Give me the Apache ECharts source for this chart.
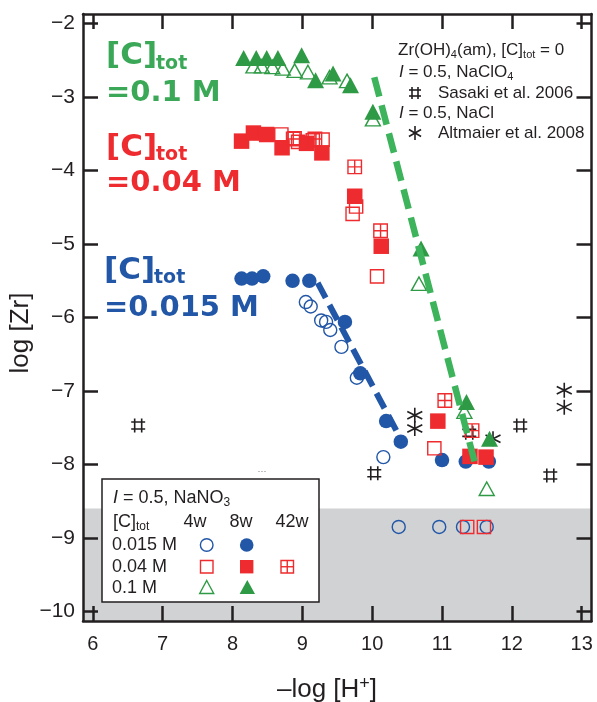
<!DOCTYPE html>
<html><head><meta charset="utf-8">
<script src="https://cdn.jsdelivr.net/npm/echarts@6/dist/echarts.min.js"></script>
<style>html,body{margin:0;padding:0;background:#fff}#c{width:597px;height:702px}</style>
</head><body><div id="c"></div>
<script>
// ---------- data ----------
const xTicks = [6, 7, 8, 9, 10, 11, 12, 13];
const yTicks = [-10, -9, -8, -7, -6, -5, -4, -3, -2];
const detectionLimit = -8.6;

const blueOpen4w = [[9.05,-5.79],[9.12,-5.85],[9.27,-6.04],[9.34,-6.06],[9.40,-6.17],[9.56,-6.40],[9.78,-6.82],[10.16,-7.90],[10.38,-8.85],[10.96,-8.85],[11.30,-8.85],[11.64,-8.85]];
const blueFilled8w = [[8.13,-5.47],[8.28,-5.47],[8.44,-5.44],[8.86,-5.50],[9.10,-5.50],[9.61,-6.06],[9.83,-6.76],[10.20,-7.41],[10.41,-7.69],[11.00,-7.94],[11.34,-7.96],[11.67,-7.96]];
const redOpen4w = [[8.70,-3.51],[8.89,-3.56],[8.94,-3.61],[9.15,-3.59],[9.29,-3.58],[9.72,-4.59],[9.77,-4.49],[10.07,-5.44],[10.89,-7.78],[11.36,-8.85],[11.60,-8.85]];
const redFilled8w = [[8.13,-3.60],[8.30,-3.49],[8.49,-3.51],[8.71,-3.69],[9.06,-3.63],[9.28,-3.76],[9.75,-4.35],[10.13,-5.03],[10.94,-7.41],[11.40,-7.89],[11.63,-7.90]];
const redCrossed42w = [[8.87,-3.57],[9.18,-3.57],[9.75,-3.95],[10.12,-4.82],[11.04,-7.13],[11.43,-7.54]];
const greenOpen4w = [[8.30,-2.58],[8.42,-2.58],[8.57,-2.59],[8.72,-2.61],[8.89,-2.64],[9.08,-2.66],[9.39,-2.73],[9.64,-2.78],[10.01,-3.30],[10.67,-5.54],[11.32,-7.28],[11.64,-8.33]];
const greenFilled8w = [[8.16,-2.47],[8.34,-2.47],[8.49,-2.47],[8.65,-2.47],[8.99,-2.43],[9.19,-2.77],[9.44,-2.68],[9.69,-2.84],[10.01,-3.20],[10.70,-5.06],[11.35,-7.15],[11.68,-7.65]];
const sasaki2006 = [[6.65,-7.47],[10.03,-8.12],[11.39,-7.57],[12.12,-7.47],[12.55,-8.15]];
const altmaier2008 = [[10.61,-7.33],[10.61,-7.51],[11.73,-7.65],[12.75,-6.99],[12.75,-7.22]];
const blueFit = [[9.22,-5.53],[10.42,-7.67]];
const greenFit = [[10.03,-2.73],[11.49,-8.05]];

// ---------- styles ----------
const BLUE = '#2257a7', RED = '#ee2b2e', GREEN = '#2f9a45', GREEN_LINE = '#3db35c', GREEN_TXT = '#3aa857', INK = '#231f20';
const HASH = 'path://M2.5,0V10M7.5,0V10M0,2.5H10M0,7.5H10';
const STAR = 'path://M5,0V10M0.7,2.5L9.3,7.5M0.7,7.5L9.3,2.5';
const CROSSSQ = 'path://M0,0H10V10H0ZM5,0V10M0,5H10';
const XMIN = 5.86, XMAX = 13.14, YMIN = -10.13, YMAX = -1.87;

function axisCommon(showLabel, pos) {
  return {
    type: 'value', position: pos, z: 10,
    axisLine: { show: true, onZero: false, lineStyle: { color: INK, width: 2.5 } },
    axisTick: { show: true, inside: true, length: 15, lineStyle: { color: INK, width: 2.5 } },
    axisLabel: { show: showLabel, color: INK, fontSize: 20, fontFamily: 'Liberation Sans' },
    splitLine: { show: false }
  };
}
const xa0 = axisCommon(true, 'bottom'); xa0.min = XMIN; xa0.max = XMAX; xa0.axisTick.customValues = xTicks; xa0.axisLabel.customValues = xTicks; xa0.axisLabel.margin = 13;
const xa1 = axisCommon(false, 'top'); xa1.min = XMIN; xa1.max = XMAX; xa1.axisTick.customValues = xTicks; xa1.axisLabel.customValues = xTicks;
const ya0 = axisCommon(true, 'left'); ya0.min = YMIN; ya0.max = YMAX; ya0.axisTick.customValues = yTicks; ya0.axisLabel.customValues = yTicks; ya0.axisLabel.margin = 8;
ya0.axisLabel.fontSize = 21;
ya0.axisLabel.formatter = (v) => (v < 0 ? '\u2212' : '') + Math.abs(v);
const ya1 = axisCommon(false, 'right'); ya1.min = YMIN; ya1.max = YMAX; ya1.axisTick.customValues = yTicks; ya1.axisLabel.customValues = yTicks;

function sc(name, data, symbol, size, fill, stroke, bw, z) {
  return { type: 'scatter', name, data, symbol, symbolSize: size, z: z || 3, silent: true,
    itemStyle: { color: fill, borderColor: stroke, borderWidth: bw, opacity: 1 } };
}

// ---------- graphics (labels / legend) ----------
const g = [];
function T(x, y, text, font, fill, align, extra) {
  const el = { type: 'text', x, y, z: 100, silent: true,
    style: Object.assign({ text, font, fill, align: align || 'left', verticalAlign: 'middle', textAlign: align || 'left', textVerticalAlign: 'middle' }, extra || {}) };
  g.push(el); return el;
}
function L(x1, y1, x2, y2, stroke, w) {
  g.push({ type: 'line', z: 100, silent: true, shape: { x1, y1, x2, y2 }, style: { stroke, lineWidth: w } });
}
function hashAt(cx, cy, s, stroke) {
  const h = s / 2, a = s * 0.25;
  L(cx - a, cy - h, cx - a, cy + h, stroke, 1.6); L(cx + a, cy - h, cx + a, cy + h, stroke, 1.6);
  L(cx - h, cy - a, cx + h, cy - a, stroke, 1.6); L(cx - h, cy + a, cx + h, cy + a, stroke, 1.6);
}
function starAt(cx, cy, s, stroke) {
  const h = s / 2, dx = h * 0.866, dy = h * 0.5;
  L(cx, cy - h, cx, cy + h, stroke, 1.6);
  L(cx - dx, cy - dy, cx + dx, cy + dy, stroke, 1.6);
  L(cx - dx, cy + dy, cx + dx, cy - dy, stroke, 1.6);
}
const BIG = 'bold 29px "DejaVu Sans"', BIGSUB = 'bold 19px "DejaVu Sans"', BIGC = 'bold 31px "DejaVu Sans"';
T(106, 56, '[C]', BIGC, GREEN_TXT); T(156, 64, 'tot', BIGSUB, GREEN_TXT); T(106, 93, '=0.1 M', BIG, GREEN_TXT);
T(106, 148, '[C]', BIGC, RED); T(156, 155, 'tot', BIGSUB, RED); T(106, 183, '=0.04 M', BIG, RED);
T(104, 271, '[C]', BIGC, BLUE); T(154, 278, 'tot', BIGSUB, BLUE); T(104, 308, '=0.015 M', BIG, BLUE);

const richN = (fs) => ({
  n: { fontSize: fs, fontFamily: 'Liberation Sans', fill: INK, lineHeight: fs + 4 },
  i: { fontSize: fs, fontFamily: 'Liberation Sans', fontStyle: 'italic', fill: INK, lineHeight: fs + 4 },
  s: { fontSize: Math.round(fs * 0.65), fontFamily: 'Liberation Sans', fill: INK, verticalAlign: 'bottom', lineHeight: 8 },
  p: { fontSize: Math.round(fs * 0.7), fontFamily: 'Liberation Sans', fill: INK, verticalAlign: 'top', lineHeight: 8 }
});
function R(x, y, text, fs, align, extra) {
  const el = { type: 'text', x, y, z: 100, silent: true,
    style: { text, rich: richN(fs), fill: INK, align: align || 'left', verticalAlign: 'middle', textAlign: align || 'left', textVerticalAlign: 'middle' } };
  Object.assign(el, extra || {});
  g.push(el); return el;
}
// top-right legend
R(398, 50, '{n|Zr(OH)}{s|4}{n|(am), [C]}{s|tot}{n| = 0}', 17);
R(399, 72, '{i|I}{n| = 0.5, NaClO}{s|4}', 17);
hashAt(415, 93, 12, INK);
R(438, 93, '{n|Sasaki et al. 2006}', 17);
R(399, 113, '{i|I}{n| = 0.5, NaCl}', 17);
starAt(415, 133, 14, INK);
R(438, 133, '{n|Altmaier et al. 2008}', 17);

// bottom-left legend box
g.push({ type: 'rect', z: 99, silent: true, shape: { x: 102, y: 479, width: 217, height: 123 }, style: { fill: '#fff', stroke: INK, lineWidth: 1.5 } });
R(113, 498, '{i|I}{n| = 0.5, NaNO}{s|3}', 18);
R(113, 522, '{n|[C]}{s|tot}', 18);
R(195, 522, '{n|4w}', 18, 'center');
R(241, 522, '{n|8w}', 18, 'center');
R(292, 522, '{n|42w}', 18, 'center');
R(112, 545, '{n|0.015 M}', 18);
R(112, 567, '{n|0.04 M}', 18);
R(112, 588, '{n|0.1 M}', 18);
g.push({ type: 'circle', z: 100, silent: true, shape: { cx: 206.7, cy: 545, r: 6.3 }, style: { fill: 'none', stroke: BLUE, lineWidth: 1.4 } });
g.push({ type: 'circle', z: 100, silent: true, shape: { cx: 246.7, cy: 545, r: 6.8 }, style: { fill: BLUE } });
g.push({ type: 'rect', z: 100, silent: true, shape: { x: 200.5, y: 560.5, width: 12.5, height: 12.5 }, style: { fill: 'none', stroke: RED, lineWidth: 1.4 } });
g.push({ type: 'rect', z: 100, silent: true, shape: { x: 240, y: 560, width: 13.4, height: 13.4 }, style: { fill: RED } });
g.push({ type: 'rect', z: 100, silent: true, shape: { x: 281, y: 560.5, width: 12.5, height: 12.5 }, style: { fill: 'none', stroke: RED, lineWidth: 1.4 } });
L(287.25, 560.5, 287.25, 573, RED, 1.4); L(281, 566.75, 293.5, 566.75, RED, 1.4);
g.push({ type: 'polygon', z: 100, silent: true, shape: { points: [[206.7, 580.5], [213.7, 593.5], [199.7, 593.5]] }, style: { fill: 'none', stroke: GREEN, lineWidth: 1.4 } });
g.push({ type: 'polygon', z: 100, silent: true, shape: { points: [[247.3, 580], [255, 594], [239.6, 594]] }, style: { fill: GREEN } });
T(262, 472, '···', '9px "Liberation Sans"', '#777', 'center');

// axis names
R(327, 690, '{n|–log [H}{p|+}{n|]}', 26, 'center');
R(21, 333, '{n|log [Zr]}', 26, 'center', { rotation: Math.PI / 2 });

const chart = echarts.init(document.getElementById('c'), null, { renderer: 'canvas' });
chart.setOption({
  animation: false,
  backgroundColor: '#fff',
  grid: { left: 83, right: 5.5, top: 14, bottom: 81, containLabel: false },
  xAxis: [xa0, xa1],
  yAxis: [ya0, ya1],
  series: [
    { type: 'scatter', data: [], z: 1, silent: true,
      markArea: { silent: true, itemStyle: { color: '#d1d2d4' },
        data: [[{ coord: [XMIN, detectionLimit] }, { coord: [XMAX, YMIN] }]] } },
    sc('Sasaki 2006', sasaki2006, HASH, [14, 14], 'rgba(0,0,0,0)', INK, 1.6),
    sc('Altmaier 2008', altmaier2008, STAR, [15, 15], 'rgba(0,0,0,0)', INK, 1.6),
    sc('0.015 M 4w', blueOpen4w, 'circle', 13, 'rgba(0,0,0,0)', BLUE, 1.4),
    sc('0.015 M 8w', blueFilled8w, 'circle', 14.5, BLUE, BLUE, 0),
    sc('0.04 M 4w', redOpen4w, 'rect', 13.2, 'rgba(0,0,0,0)', RED, 1.4),
    sc('0.04 M 8w', redFilled8w, 'rect', 15.5, RED, RED, 0),
    sc('0.04 M 42w', redCrossed42w, CROSSSQ, [13.5, 13.5], 'rgba(0,0,0,0)', RED, 1.4),
    sc('0.1 M 4w', greenOpen4w, 'triangle', [15, 13.5], 'rgba(0,0,0,0)', GREEN, 1.4),
    sc('0.1 M 8w', greenFilled8w, 'triangle', [17, 16], GREEN, GREEN, 0),
    { type: 'line', data: blueFit, symbol: 'none', silent: true, z: 5,
      lineStyle: { color: BLUE, width: 6, type: [17, 8], cap: 'butt' } },
    { type: 'line', data: greenFit, symbol: 'none', silent: true, z: 5,
      lineStyle: { color: GREEN_LINE, width: 6.5, type: [20, 9], cap: 'butt' } }
  ],
  graphic: { elements: g }
});
</script></body></html>
